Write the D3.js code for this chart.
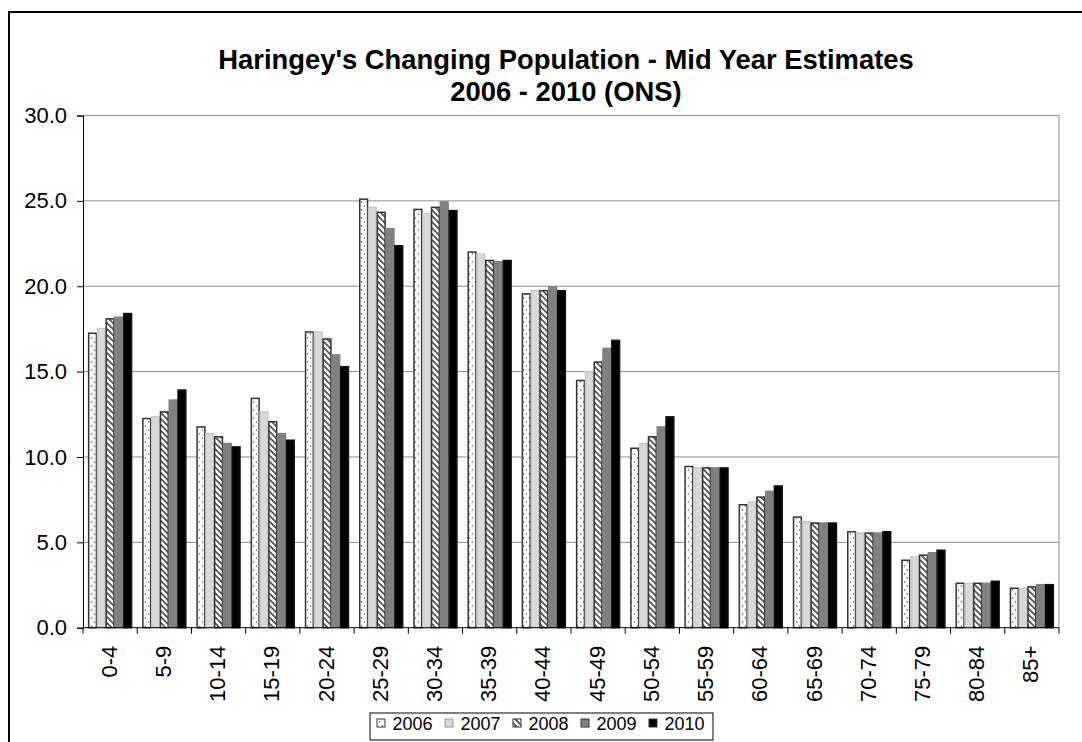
<!DOCTYPE html>
<html><head><meta charset="utf-8">
<script src="https://cdn.jsdelivr.net/npm/d3@7"></script>
<style>body{margin:0;background:#fff}svg{display:block}text{font-family:"Liberation Sans",Arial,sans-serif}</style>
</head><body><svg id="c" width="1082" height="742"></svg>
<script>
const categories=["0-4","5-9","10-14","15-19","20-24","25-29","30-34","35-39","40-44","45-49","50-54","55-59","60-64","65-69","70-74","75-79","80-84","85+"];
const years=["2006","2007","2008","2009","2010"];
const v2006=[17.25,12.25,11.76,13.43,17.32,25.1,24.5,22.0,19.55,14.48,10.51,9.44,7.2,6.48,5.62,3.95,2.6,2.31];
const v2007=[17.52,12.35,11.37,12.64,17.32,24.62,24.25,21.88,19.74,14.99,10.79,9.36,7.36,6.21,5.54,4.15,2.6,2.31];
const v2008=[18.09,12.64,11.18,12.06,16.91,24.33,24.62,21.51,19.74,15.56,11.18,9.36,7.65,6.13,5.54,4.25,2.6,2.39];
const v2009=[18.19,13.33,10.79,11.37,15.98,23.37,24.94,21.43,19.96,16.36,11.76,9.36,7.99,6.13,5.54,4.39,2.6,2.52];
const v2010=[18.40,13.92,10.59,10.98,15.29,22.37,24.43,21.51,19.74,16.83,12.35,9.36,8.3,6.13,5.62,4.54,2.72,2.52];
const yTicks=[0,5,10,15,20,25,30];
const titleLines=["Haringey's Changing Population - Mid Year Estimates","2006 - 2010 (ONS)"];

const series=[v2006,v2007,v2008,v2009,v2010];
const svg=d3.select("#c");
const defs=svg.append("defs");
const p1=defs.append("pattern").attr("id","dots").attr("patternUnits","userSpaceOnUse").attr("width",6).attr("height",8);
p1.append("rect").attr("width",6).attr("height",8).attr("fill","#fff");
p1.append("circle").attr("cx",1.5).attr("cy",2).attr("r",0.8).attr("fill","#555");
p1.append("circle").attr("cx",4.5).attr("cy",6).attr("r",0.8).attr("fill","#555");
const p3=defs.append("pattern").attr("id","zig").attr("patternUnits","userSpaceOnUse").attr("width",6).attr("height",6);
p3.append("rect").attr("width",6).attr("height",6).attr("fill","#fff");
p3.append("path").attr("d","M-1,-1L7,7M-1,5L1,7M5,-1L7,1").attr("stroke","#555").attr("stroke-width",1.8);

const fills=["url(#dots)","#d9d9d9","url(#zig)","#808080","#000"];
const strokes=["#333","#c8c8c8","#333","#808080","#111"];

const L=83,R=1059,T=115.5,B=627.7;
const x=d3.scaleBand().domain(categories).range([L,R]).paddingInner(0.19).paddingOuter(0.095);
const xs=d3.scaleBand().domain(years).range([0,x.bandwidth()]);
const y=d3.scaleLinear().domain([0,30]).range([B,T]);

svg.append("rect").attr("x",9).attr("y",12).attr("width",1200).attr("height",900).attr("fill","none").attr("stroke","#000").attr("stroke-width",2);

svg.append("g").selectAll("line").data(yTicks.filter(d=>d>0)).join("line")
 .attr("x1",L).attr("x2",R).attr("y1",d=>y(d)).attr("y2",d=>y(d)).attr("stroke","#8c8c8c").attr("stroke-width",1);
svg.append("line").attr("x1",R).attr("x2",R).attr("y1",T).attr("y2",B).attr("stroke","#8c8c8c");

const g=svg.append("g");
years.forEach((yr,i)=>{
 g.append("g").selectAll("rect").data(series[i]).join("rect")
  .attr("x",(d,j)=>x(categories[j])+xs(yr)+0.5)
  .attr("y",d=>y(d))
  .attr("width",xs.bandwidth()-1)
  .attr("height",d=>B-y(d))
  .attr("fill",fills[i]).attr("stroke",strokes[i]).attr("stroke-width",1.5);
});

const ya=svg.append("g").attr("transform",`translate(${L},0)`)
 .call(d3.axisLeft(y).tickValues(yTicks).tickFormat(d3.format(".1f")).tickSize(6).tickPadding(10));
ya.select(".domain").attr("stroke","#000");
ya.selectAll(".tick line").attr("stroke","#000");
ya.selectAll("text").attr("font-size",22).attr("fill","#000").style("font-family","Liberation Sans, Arial, sans-serif");

svg.append("line").attr("x1",L).attr("x2",R).attr("y1",B).attr("y2",B).attr("stroke","#000");
const step=x.step();
const bounds=categories.map(c=>x(c)-step*x.paddingInner()/2).concat([R]);
svg.append("g").selectAll("line").data(bounds).join("line")
 .attr("x1",d=>d).attr("x2",d=>d).attr("y1",B).attr("y2",B+6).attr("stroke","#000");
svg.append("g").selectAll("text").data(categories).join("text")
 .attr("transform",c=>`translate(${x(c)+x.bandwidth()/2+6.5},${B+18}) rotate(-90)`)
 .attr("text-anchor","end").attr("font-size",22).attr("fill","#000").text(c=>c);

svg.append("g").selectAll("text").data(titleLines).join("text")
 .attr("x",566).attr("y",(d,i)=>69+i*32).attr("text-anchor","middle")
 .attr("font-size",27.4).attr("font-weight","bold").attr("fill","#000").text(d=>d);

const lg=svg.append("g");
lg.append("rect").attr("x",370).attr("y",713).attr("width",343).attr("height",27).attr("fill","#fff").attr("stroke","#000").attr("stroke-width",1);
years.forEach((yr,i)=>{
 const lx=377+i*68;
 lg.append("rect").attr("x",lx).attr("y",719).attr("width",8).attr("height",8).attr("fill",fills[i]).attr("stroke",i===1?"#999":"#333").attr("stroke-width",1);
 lg.append("text").attr("x",lx+15.5).attr("y",729.5).attr("font-size",18).attr("fill","#000").text(yr);
});
</script></body></html>
